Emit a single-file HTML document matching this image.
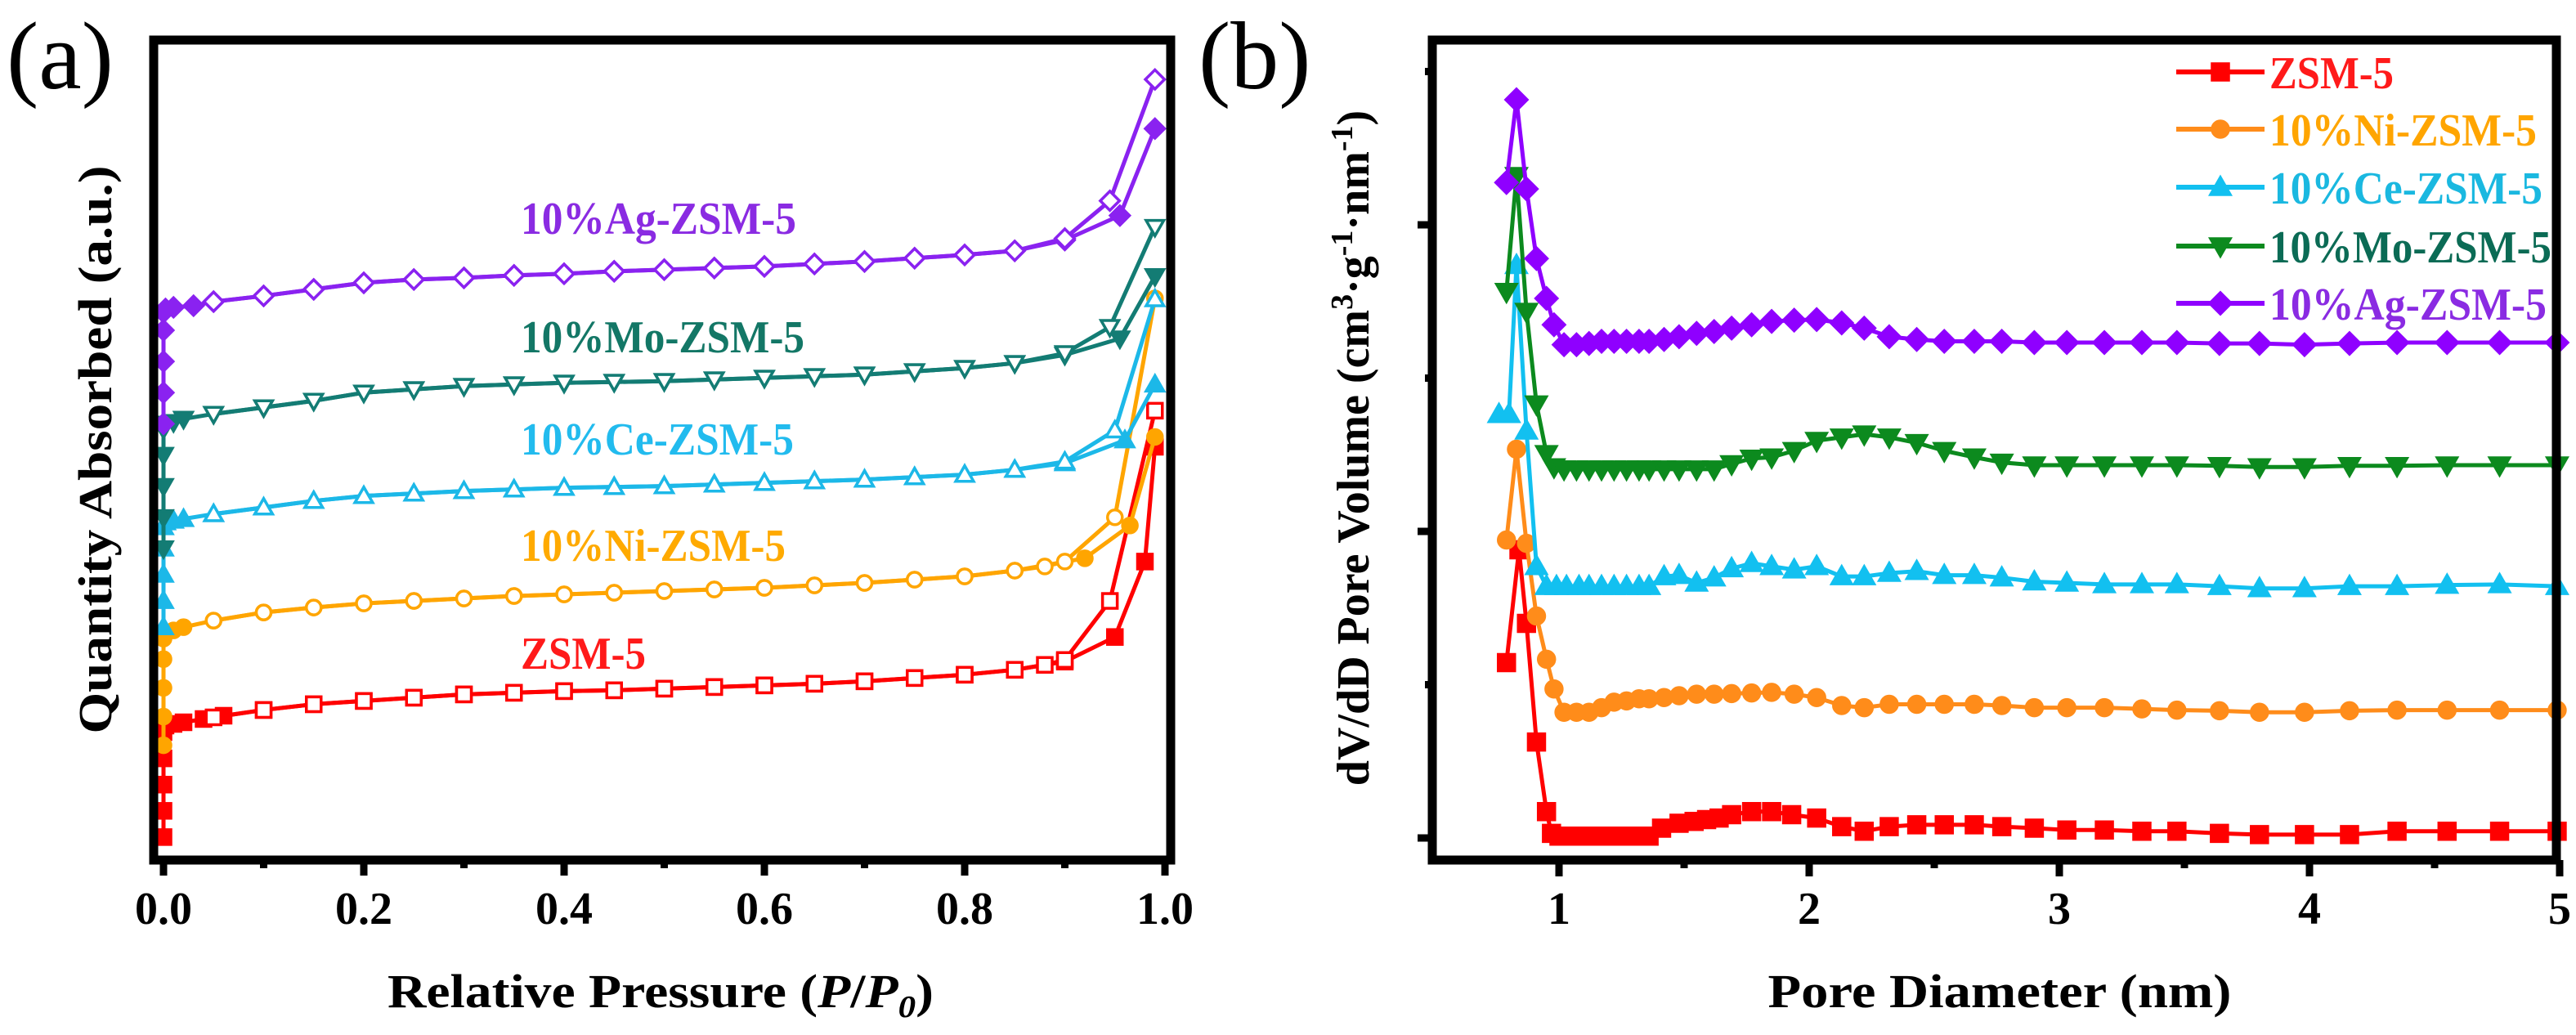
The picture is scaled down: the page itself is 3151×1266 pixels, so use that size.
<!DOCTYPE html>
<html><head><meta charset="utf-8">
<style>
html,body{margin:0;padding:0;background:#fff;}
svg{display:block;}
text{font-family:"Liberation Serif","Times New Roman",serif;font-weight:bold;}
</style></head>
<body>
<svg id="fig" width="3151" height="1266" viewBox="0 0 3151 1266" xmlns="http://www.w3.org/2000/svg">
  <rect width="3151" height="1266" fill="#fff"/>
  <text x="8" y="108" font-size="118" style="font-weight:normal">(a)</text>
  <text x="1466" y="108" font-size="118" style="font-weight:normal">(b)</text>
  <g id="pa"></g>
  <g id="pb"></g>
</svg>
<script>
// ---------- Panel (a) data: N2 isotherms (arbitrary units, 0-100) ----------
const aTicks = [0, 0.2, 0.4, 0.6, 0.8, 1.0];
const aTickLabels = ["0.0", "0.2", "0.4", "0.6", "0.8", "1.0"];
const aNames = ["ZSM-5", "10%Ni-ZSM-5", "10%Ce-ZSM-5", "10%Mo-ZSM-5", "10%Ag-ZSM-5"];
const zsmAdsP = [0,0,0,0,0,0.002,0.01,0.02,0.04,0.06,0.1,0.15,0.2,0.25,0.3,0.35,0.4,0.45,0.5,0.55,0.6,0.65,0.7,0.75,0.8,0.85,0.9,0.95,0.98,0.99];
const zsmAdsV = [2.8,6,9.2,12.4,15.6,16.4,16.6,16.8,17.2,17.6,18.3,19,19.4,19.8,20.2,20.4,20.6,20.7,20.9,21.1,21.3,21.5,21.8,22.2,22.6,23.2,24.2,27.2,36.4,50.4];
const zsmDesP = [0.99,0.945,0.9,0.88,0.85,0.8,0.75,0.7,0.65,0.6,0.55,0.5,0.45,0.4,0.35,0.3,0.25,0.2,0.15,0.1,0.05];
const zsmDesV = [54.8,31.6,24.4,23.8,23.2,22.6,22.2,21.8,21.5,21.3,21.1,20.9,20.7,20.6,20.4,20.2,19.8,19.4,19,18.3,17.4];
const niAdsP = [0,0,0,0,0,0.002,0.01,0.02,0.05,0.1,0.15,0.2,0.25,0.3,0.35,0.4,0.45,0.5,0.55,0.6,0.65,0.7,0.75,0.8,0.85,0.92,0.965,0.99];
const niAdsV = [14,17.5,21,24.5,27,27.6,28,28.4,29.2,30.2,30.8,31.3,31.6,31.9,32.2,32.4,32.6,32.8,33,33.2,33.5,33.8,34.2,34.6,35.3,36.8,40.8,51.6];
const niDesP = [0.99,0.95,0.9,0.88,0.85,0.8,0.75,0.7,0.65,0.6,0.55,0.5,0.45,0.4,0.35,0.3,0.25,0.2,0.15,0.1,0.05];
const niDesV = [68.5,41.8,36.4,35.8,35.3,34.6,34.2,33.8,33.5,33.2,33,32.8,32.6,32.4,32.2,31.9,31.6,31.3,30.8,30.2,29.2];
const ceAdsP = [0,0,0,0,0,0.002,0.01,0.02,0.05,0.1,0.15,0.2,0.25,0.3,0.35,0.4,0.45,0.5,0.55,0.6,0.65,0.7,0.75,0.8,0.85,0.9,0.96,0.99];
const ceAdsV = [28.4,31.6,34.8,38,40.6,41.2,41.4,41.6,42.2,43,43.8,44.4,44.7,45,45.2,45.4,45.5,45.6,45.8,46,46.2,46.4,46.7,47,47.6,48.4,51.2,58];
const ceDesP = [0.99,0.95,0.9,0.85,0.8,0.75,0.7,0.65,0.6,0.55,0.5,0.45,0.4,0.35,0.3,0.25,0.2,0.15,0.1,0.05];
const ceDesV = [68.4,52.4,48.6,47.6,47,46.7,46.4,46.2,46,45.8,45.6,45.5,45.4,45.2,45,44.7,44.4,43.8,43,42.2];
const moAdsP = [0,0,0,0,0,0.002,0.01,0.02,0.05,0.1,0.15,0.2,0.25,0.3,0.35,0.4,0.45,0.5,0.55,0.6,0.65,0.7,0.75,0.8,0.85,0.9,0.955,0.99];
const moAdsV = [38,41.8,45.6,49.4,52.6,53.2,53.4,53.8,54.4,55.2,56,57,57.4,57.8,58,58.2,58.3,58.4,58.6,58.8,59,59.2,59.6,60,60.6,61.6,63.6,71.2];
const moDesP = [0.99,0.945,0.9,0.85,0.8,0.75,0.7,0.65,0.6,0.55,0.5,0.45,0.4,0.35,0.3,0.25,0.2,0.15,0.1,0.05];
const moDesV = [77.2,65,61.8,60.6,60,59.6,59.2,59,58.8,58.6,58.4,58.3,58.2,58,57.8,57.4,57,56,55.2,54.4];
const agAdsP = [0,0,0,0,0,0.002,0.01,0.03,0.05,0.1,0.15,0.2,0.25,0.3,0.35,0.4,0.45,0.5,0.55,0.6,0.65,0.7,0.75,0.8,0.85,0.9,0.955,0.99];
const agAdsV = [53.2,57,60.8,64.6,66.8,67.2,67.4,67.6,68.1,68.8,69.6,70.4,70.8,71,71.3,71.5,71.8,72,72.2,72.4,72.7,73,73.4,73.8,74.3,75.6,78.6,89.2];
const agDesP = [0.99,0.945,0.9,0.85,0.8,0.75,0.7,0.65,0.6,0.55,0.5,0.45,0.4,0.35,0.3,0.25,0.2,0.15,0.1,0.05];
const agDesV = [95.2,80.4,75.8,74.3,73.8,73.4,73,72.7,72.4,72.2,72,71.8,71.5,71.3,71,70.8,70.4,69.6,68.8,68.1];

// ---------- Panel (b) data: pore size distribution ----------
const bTicks = [1, 2, 3, 4, 5];
const bTickLabels = ["1", "2", "3", "4", "5"];
const zsmD = [0.79,0.84,0.87,0.91,0.95,0.97,1.0,1.04,1.08,1.12,1.16,1.2,1.24,1.28,1.32,1.36,1.41,1.48,1.54,1.59,1.64,1.69,1.77,1.85,1.93,2.03,2.13,2.22,2.32,2.43,2.54,2.66,2.77,2.9,3.03,3.18,3.33,3.47,3.64,3.8,3.98,4.16,4.35,4.55,4.76,4.99];
const zsmPV = [0.572,0.94,0.70,0.313,0.086,0.015,0.006,0.006,0.006,0.006,0.006,0.006,0.006,0.006,0.006,0.006,0.032,0.048,0.054,0.06,0.065,0.076,0.086,0.086,0.076,0.065,0.037,0.022,0.037,0.043,0.043,0.043,0.037,0.032,0.026,0.026,0.022,0.022,0.015,0.011,0.011,0.011,0.022,0.022,0.022,0.022];
const niD = [0.79,0.83,0.87,0.91,0.95,0.98,1.02,1.07,1.12,1.17,1.22,1.27,1.32,1.36,1.42,1.48,1.55,1.62,1.69,1.77,1.85,1.94,2.03,2.13,2.22,2.32,2.43,2.54,2.66,2.77,2.9,3.03,3.18,3.33,3.47,3.64,3.8,3.98,4.16,4.35,4.55,4.76,4.99];
const niPV = [0.972,1.268,0.961,0.724,0.583,0.486,0.41,0.41,0.41,0.425,0.443,0.447,0.454,0.454,0.458,0.464,0.469,0.469,0.471,0.473,0.475,0.469,0.458,0.432,0.425,0.436,0.436,0.436,0.436,0.432,0.425,0.425,0.425,0.421,0.417,0.415,0.41,0.41,0.415,0.417,0.417,0.417,0.417];
const ceD = [0.76,0.80,0.83,0.87,0.91,0.95,0.99,1.03,1.08,1.12,1.17,1.22,1.27,1.32,1.36,1.42,1.48,1.55,1.62,1.69,1.77,1.85,1.94,2.03,2.13,2.22,2.32,2.43,2.54,2.66,2.77,2.9,3.03,3.18,3.33,3.47,3.64,3.8,3.98,4.16,4.35,4.55,4.76,4.99];
const cePV = [1.382,1.382,1.868,1.328,0.886,0.821,0.821,0.821,0.821,0.821,0.821,0.821,0.821,0.821,0.821,0.853,0.857,0.832,0.849,0.879,0.896,0.886,0.875,0.886,0.853,0.853,0.864,0.870,0.857,0.857,0.849,0.836,0.832,0.827,0.827,0.827,0.821,0.814,0.814,0.821,0.821,0.825,0.827,0.821];
const moD = [0.79,0.83,0.87,0.91,0.95,0.98,1.02,1.07,1.12,1.17,1.22,1.27,1.32,1.36,1.42,1.48,1.55,1.62,1.69,1.77,1.85,1.94,2.03,2.13,2.22,2.32,2.43,2.54,2.66,2.77,2.9,3.03,3.18,3.33,3.47,3.64,3.8,3.98,4.16,4.35,4.55,4.76,4.99];
const moPV = [1.782,2.16,1.717,1.415,1.253,1.21,1.203,1.203,1.203,1.203,1.203,1.203,1.203,1.203,1.203,1.203,1.203,1.203,1.22,1.238,1.242,1.263,1.296,1.307,1.317,1.307,1.289,1.263,1.242,1.225,1.216,1.216,1.216,1.216,1.216,1.214,1.21,1.21,1.214,1.214,1.216,1.216,1.216];
const agD = [0.79,0.83,0.87,0.91,0.95,0.98,1.02,1.07,1.12,1.17,1.22,1.27,1.32,1.36,1.42,1.48,1.55,1.62,1.69,1.77,1.85,1.94,2.03,2.13,2.22,2.32,2.43,2.54,2.66,2.77,2.9,3.03,3.18,3.33,3.47,3.64,3.8,3.98,4.16,4.35,4.55,4.76,4.99];
const agPV = [2.138,2.408,2.117,1.89,1.76,1.674,1.609,1.609,1.613,1.62,1.62,1.62,1.62,1.62,1.626,1.635,1.646,1.652,1.663,1.674,1.685,1.689,1.691,1.68,1.663,1.635,1.626,1.62,1.62,1.62,1.616,1.616,1.616,1.616,1.616,1.613,1.613,1.609,1.613,1.616,1.616,1.616,1.616];

const NS = "http://www.w3.org/2000/svg";
function mk(parent, tag, attrs) {
  const e = document.createElementNS(NS, tag);
  for (const k in attrs) e.setAttribute(k, attrs[k]);
  parent.appendChild(e);
  return e;
}
const xa = p => 200 + p * 1225;
const ya = v => 1052 - v * 10.03;
const xb = d => 1907 + (d - 1) * 306;
const yb = v => 1025 - v * 375;

function marker(g, shape, x, y, s, color, filled) {
  const fill = filled ? color : "#fff";
  const sw = 3.5;
  let e;
  if (shape === "square") e = mk(g, "rect", {x: x - s/2, y: y - s/2, width: s, height: s, fill: fill, stroke: color, "stroke-width": sw});
  else if (shape === "circle") e = mk(g, "circle", {cx: x, cy: y, r: s/2, fill: fill, stroke: color, "stroke-width": sw});
  else if (shape === "up") e = mk(g, "polygon", {points: `${x},${y - s*0.6} ${x - s*0.6},${y + s*0.45} ${x + s*0.6},${y + s*0.45}`, fill: fill, stroke: color, "stroke-width": sw});
  else if (shape === "down") e = mk(g, "polygon", {points: `${x},${y + s*0.6} ${x - s*0.6},${y - s*0.45} ${x + s*0.6},${y - s*0.45}`, fill: fill, stroke: color, "stroke-width": sw});
  else e = mk(g, "polygon", {points: `${x},${y - s*0.65} ${x + s*0.65},${y} ${x},${y + s*0.65} ${x - s*0.65},${y}`, fill: fill, stroke: color, "stroke-width": sw});
  return e;
}

function drawSeries(g, xs, ys, fx, fy, color, shape, size, filled, lw, name) {
  const sg = mk(g, "g", {});
  
  
  const pts = xs.map((x, i) => fx(x) + "," + fy(ys[i])).join(" ");
  mk(sg, "polyline", {points: pts, fill: "none", stroke: color, "stroke-width": lw, "stroke-linejoin": "round"});
  xs.forEach((x, i) => {
    const m = marker(sg, shape, fx(x), fy(ys[i]), size, color, filled);
    
    
  });
}

// ----- Panel A -----
const pa = document.getElementById("pa");
const aSeries = [
  [zsmAdsP, zsmAdsV, zsmDesP, zsmDesV, "#ff0000", "square"],
  [niAdsP, niAdsV, niDesP, niDesV, "#ffa500", "circle"],
  [ceAdsP, ceAdsV, ceDesP, ceDesV, "#1cb8e8", "up"],
  [moAdsP, moAdsV, moDesP, moDesV, "#137c74", "down"],
  [agAdsP, agAdsV, agDesP, agDesV, "#8a22f0", "diamond"]
];
aSeries.forEach((s, i) => {
  const nm = aNames[i].toLowerCase().replace('%', '');
  drawSeries(pa, s[0], s[1], xa, ya, s[4], s[5], 18, true, 5, "adsorption-" + nm);
  drawSeries(pa, s[2], s[3], xa, ya, s[4], s[5], 18, false, 5, "desorption-" + nm);
});
const aLabelY = [818, 686, 556, 431, 286];
const aLabelW = [153, 324, 334, 347, 337];
const aLabelColors = ["#ff1a1a", "#ffaa00", "#22bbee", "#137766", "#8a2be2"];
aNames.forEach((n, i) => {
  const t = mk(pa, "text", {x: 637, y: aLabelY[i], "font-size": 56, fill: aLabelColors[i], textLength: aLabelW[i], lengthAdjust: "spacingAndGlyphs"});
  t.textContent = n;
  
  
});
const fa = mk(pa, "rect", {x: 188, y: 49, width: 1244, height: 1003, fill: "none", stroke: "#000", "stroke-width": 11});


for (let k = 0; k <= 10; k++) {
  const p = k / 10;
  const major = k % 2 === 0;
  mk(pa, "line", {x1: xa(p), y1: 1052, x2: xa(p), y2: major ? 1071 : 1062, stroke: "#000", "stroke-width": 9});
}
aTicks.forEach((p, i) => {
  const t = mk(pa, "text", {x: xa(p), y: 1130, "font-size": 56, "text-anchor": "middle"});
  t.textContent = aTickLabels[i];
  
  
});
const xta = mk(pa, "text", {x: 808, y: 1232, "font-size": 58, "text-anchor": "middle", textLength: 668, lengthAdjust: "spacingAndGlyphs"});
xta.innerHTML = 'Relative Pressure (<tspan font-style="italic">P</tspan>/<tspan font-style="italic">P</tspan><tspan font-style="italic" font-size="38" dy="12">0</tspan><tspan dy="-12">)</tspan>';


const yta = mk(pa, "text", {x: 0, y: 0, "font-size": 58, "text-anchor": "middle", transform: "translate(136,550) rotate(-90)", textLength: 695, lengthAdjust: "spacingAndGlyphs"});
yta.textContent = "Quantity Absorbed (a.u.)";



// ----- Panel B -----
const pb = document.getElementById("pb");
const bNames = ["ZSM-5", "10%Ni-ZSM-5", "10%Ce-ZSM-5", "10%Mo-ZSM-5", "10%Ag-ZSM-5"];
const bSeries = [
  [zsmD, zsmPV, "#ff0000", "square"],
  [niD, niPV, "#ff8c1a", "circle"],
  [ceD, cePV, "#12c0f0", "up"],
  [moD, moPV, "#0c8a1e", "down"],
  [agD, agPV, "#8f00ff", "diamond"]
];
bSeries.forEach((s, i) => {
  drawSeries(pb, s[0], s[1], xb, yb, s[2], s[3], 20, true, 5, "psd-" + bNames[i].toLowerCase().replace('%', ''));
});
const fb = mk(pb, "rect", {x: 1752, y: 49, width: 1375, height: 1003, fill: "none", stroke: "#000", "stroke-width": 11});


for (let k = 1; k <= 9; k++) {
  const d = k / 2 + 0.5;
  const major = k % 2 === 1;
  mk(pb, "line", {x1: xb(d), y1: 1052, x2: xb(d), y2: major ? 1072 : 1062, stroke: "#000", "stroke-width": 9});
}
for (let k = 0; k <= 5; k++) {
  const v = k / 2;
  const major = k % 2 === 0;
  mk(pb, "line", {x1: 1752, y1: yb(v), x2: major ? 1734 : 1743, y2: yb(v), stroke: "#000", "stroke-width": 9});
}
bTicks.forEach((d, i) => {
  const t = mk(pb, "text", {x: xb(d), y: 1130, "font-size": 56, "text-anchor": "middle"});
  t.textContent = bTickLabels[i];
  
  
});
const xtb = mk(pb, "text", {x: 2446, y: 1232, "font-size": 58, "text-anchor": "middle", textLength: 567, lengthAdjust: "spacingAndGlyphs"});
xtb.textContent = "Pore Diameter (nm)";


const ytb = mk(pb, "text", {x: 0, y: 0, "font-size": 56, "text-anchor": "middle", transform: "translate(1674,548) rotate(-90)"});
ytb.innerHTML = 'dV/dD Pore Volume (cm<tspan font-size="38" dy="-20">3</tspan><tspan dy="20">·g</tspan><tspan font-size="38" dy="-20">-1</tspan><tspan dy="20">·nm</tspan><tspan font-size="38" dy="-20">-1</tspan><tspan dy="20">)</tspan>';



// legend
const legY = [88, 158, 229, 301, 371];
const legW = [152, 327, 334, 345, 339];
const legTextColors = ["#ff1a1a", "#ffa500", "#1ab8e0", "#0b6b55", "#8a2be2"];
const lg = mk(pb, "g", {});


bNames.forEach((n, i) => {
  const eg = mk(lg, "g", {});
  
  
  mk(eg, "line", {x1: 2662, y1: legY[i], x2: 2770, y2: legY[i], stroke: bSeries[i][2], "stroke-width": 6});
  marker(eg, bSeries[i][3], 2716, legY[i], 20, bSeries[i][2], true);
  const t = mk(eg, "text", {x: 2776, y: legY[i] + 20, "font-size": 56, fill: legTextColors[i], textLength: legW[i], lengthAdjust: "spacingAndGlyphs"});
  t.textContent = n;
});
</script>
</body></html>
